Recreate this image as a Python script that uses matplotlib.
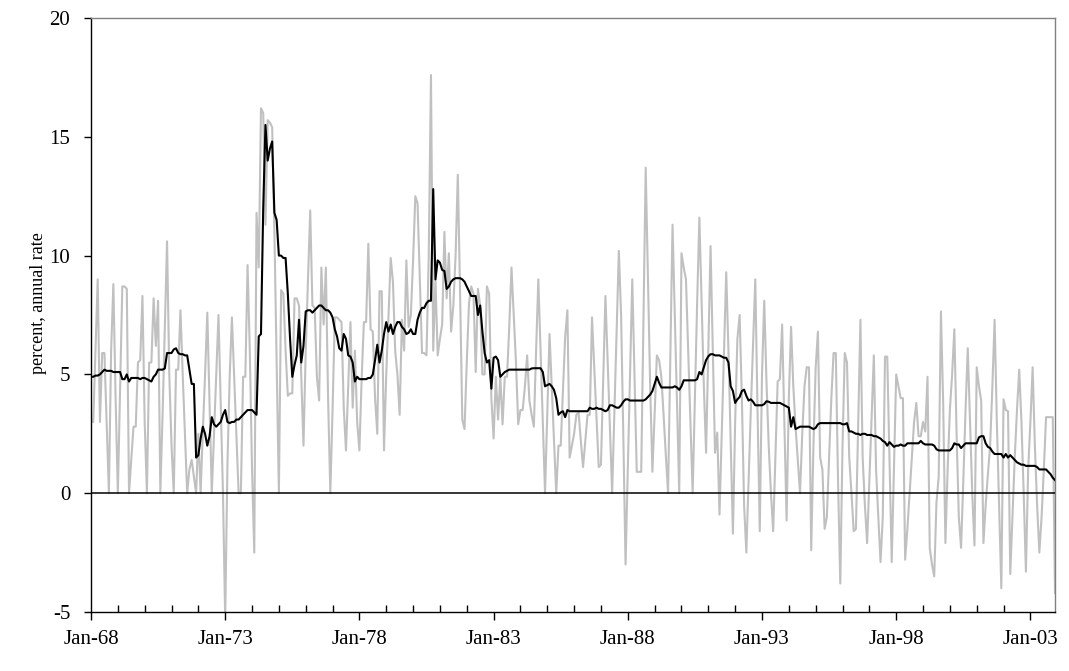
import numpy as np
import pandas as pd
import matplotlib
matplotlib.use("Agg")
import matplotlib.pyplot as plt
from matplotlib.ticker import FixedLocator, FuncFormatter

# ---- data: monthly, Jan-1968 .. Dec-2003 ----
dates = pd.date_range("1968-01-01", periods=432, freq="MS")

monthly_rate = [
    3.0, 3.0, 6.0, 9.0, 3.0, 5.9, 5.9, 3.0, 0.0, 6.0, 8.8, 4.0,          # 1968
    0.0, 4.3, 8.7, 8.7, 8.6, 0.0, 1.4, 2.8, 2.8, 5.5, 5.6, 8.3,          # 1969
    3.0, 0.0, 5.5, 5.5, 8.2, 6.2, 8.1, 0.0, 3.3, 7.0, 10.6, 5.0,         # 1970
    2.0, 0.0, 5.2, 5.2, 7.7, 5.0, 2.5, 0.0, 1.0, 1.4, 0.7, 0.0,          # 1971
    2.5, 0.0, 2.6, 5.0, 7.6, 3.8, 0.0, 2.5, 5.0, 7.5, 3.7, 0.0,          # 1972
    -5.3, 1.2, 4.9, 7.4, 4.9, 2.5, 0.0, 0.0, 4.9, 4.9, 9.6, 6.0,         # 1973
    1.0, -2.5, 11.8, 9.5, 16.2, 16.0, 11.3, 15.7, 15.6, 15.4, 11.0, 5.5, # 1974
    0.0, 8.55, 8.4, 6.0, 4.1, 4.2, 4.2, 8.2, 8.2, 7.9, 5.0, 2.0,         # 1975
    6.0, 9.0, 11.9, 7.9, 7.8, 4.9, 3.9, 9.5, 7.1, 9.5, 4.0, 0.0,         # 1976
    3.5, 7.4, 7.4, 7.3, 7.2, 3.6, 1.8, 4.5, 7.2, 3.6, 6.0, 3.0,          # 1977
    1.8, 4.8, 7.2, 7.2, 10.5, 6.9, 6.8, 4.0, 2.5, 8.5, 8.5, 1.8,         # 1978
    5.0, 7.5, 9.9, 8.9, 6.0, 5.0, 3.3, 7.3, 6.0, 9.8, 7.0, 7.5,          # 1979
    9.8, 12.5, 12.2, 9.0, 5.9, 5.9, 5.8, 10.0, 17.6, 6.0, 9.0, 5.8,      # 1980
    6.5, 7.1, 11.0, 8.2, 10.1, 6.8, 7.9, 10.0, 13.4, 8.5, 3.1, 2.7,      # 1981
    5.5, 8.0, 8.7, 8.4, 5.1, 8.6, 7.9, 5.0, 5.0, 8.7, 8.4, 4.0,          # 1982
    2.3, 4.9, 3.1, 4.9, 2.9, 4.9, 4.9, 7.0, 9.5, 7.5, 5.5, 2.9,          # 1983
    3.5, 3.5, 4.5, 5.8, 3.9, 3.3, 2.8, 6.0, 9.0, 6.0, 3.0, 0.0,          # 1984
    3.3, 6.7, 4.5, 2.2, 0.0, 2.0, 2.0, 4.3, 6.6, 7.7, 1.5, 2.0,          # 1985
    2.5, 3.3, 3.4, 2.2, 1.1, 2.2, 3.3, 3.3, 7.4, 5.3, 3.2, 1.1,          # 1986
    1.2, 4.7, 8.3, 5.5, 2.7, 0.0, 3.4, 6.8, 10.2, 7.5, 2.4, -3.0,        # 1987
    1.0, 5.0, 9.0, 5.0, 0.9, 0.9, 0.9, 7.3, 13.7, 9.0, 4.5, 0.9,         # 1988
    3.3, 5.8, 5.6, 4.9, 3.3, 1.6, 0.0, 5.6, 11.3, 7.5, 3.8, 0.0,         # 1989
    10.1, 9.5, 9.0, 6.0, 3.0, 0.0, 4.0, 8.0, 11.6, 8.0, 4.5, 1.7,        # 1990
    6.0, 10.4, 6.0, 1.7, 2.55, -0.9, 2.5, 5.9, 9.3, 6.0, 2.2, -1.7,      # 1991
    3.0, 6.5, 7.5, 4.0, -0.5, -2.5, 0.5, 3.5, 6.3, 9.0, 3.5, -1.6,       # 1992
    5.0, 8.1, 4.7, 2.0, 0.0, -1.6, 1.5, 4.7, 4.8, 7.1, 3.0, -1.15,       # 1993
    4.0, 7.0, 4.5, 2.8, 1.4, 0.0, 2.5, 4.5, 5.3, 5.3, -2.4, 2.0,         # 1994
    5.3, 6.8, 1.5, 1.0, -1.5, -1.0, 1.5, 4.0, 5.9, 5.9, 0.5, -3.8,       # 1995
    2.0, 5.9, 5.5, 1.5, 0.0, -1.6, -1.5, 3.0, 7.3, 1.5, -0.5, -2.1,      # 1996
    0.5, 3.0, 5.8, 1.0, -1.0, -2.9, -1.0, 5.75, 5.75, 1.5, -2.9, 1.0,    # 1997
    5.0, 4.5, 4.0, 4.0, -2.8, -1.5, 0.0, 1.5, 3.0, 3.8, 2.4, 2.4,        # 1998
    3.0, 2.6, 4.9, -2.3, -3.0, -3.5, -0.4, 0.7, 7.65, 3.8, -2.1, 1.0,    # 1999
    3.5, 5.0, 6.9, 2.5, -1.0, -2.3, 0.5, 3.5, 6.1, 3.0, 0.0, -2.2,       # 2000
    5.3, 4.5, 3.9, -2.1, -0.5, 0.8, 2.0, 4.5, 7.3, 3.0, -0.5, -4.0,      # 2001
    3.95, 3.5, 3.45, -3.4, -1.0, 1.5, 3.5, 5.2, 3.0, 0.0, -3.3, 1.0,     # 2002
    3.0, 5.3, 2.0, -0.5, -2.5, -1.0, 1.0, 3.2, 3.2, 3.2, 3.2, -4.2,      # 2003
]

core_rate = [
    4.9, 4.9, 4.95, 4.95, 5.0, 5.1, 5.2, 5.15, 5.15, 5.15, 5.1, 5.1,           # 1968
    5.1, 5.1, 4.8, 4.8, 5.0, 4.7, 4.85, 4.85, 4.85, 4.85, 4.8, 4.85,           # 1969
    4.85, 4.8, 4.75, 4.7, 4.9, 5.0, 5.2, 5.2, 5.2, 5.25, 5.9, 5.9,             # 1970
    5.9, 6.05, 6.1, 5.9, 5.85, 5.85, 5.8, 5.8, 5.2, 4.6, 4.6, 1.5,             # 1971
    1.6, 2.3, 2.8, 2.5, 2.0, 2.4, 3.2, 2.9, 2.8, 2.9, 3.0, 3.3,                # 1972
    3.5, 3.0, 2.95, 3.0, 3.0, 3.1, 3.1, 3.2, 3.3, 3.4, 3.5, 3.5,               # 1973
    3.5, 3.4, 3.3, 6.6, 6.7, 12.0, 15.5, 14.0, 14.5, 14.8, 11.8, 11.5,         # 1974
    10.0, 10.0, 9.9, 9.9, 8.4, 6.5, 4.9, 5.4, 5.8, 7.3, 5.5, 6.2,              # 1975
    7.65, 7.7, 7.7, 7.6, 7.7, 7.8, 7.9, 7.9, 7.8, 7.7, 7.7, 7.6,               # 1976
    7.4, 6.9, 6.6, 6.1, 6.0, 6.7, 6.5, 5.8, 5.75, 5.5, 4.7, 4.9,               # 1977
    4.8, 4.8, 4.8, 4.8, 4.85, 4.85, 5.0, 5.6, 6.25, 5.5, 6.0, 6.7,             # 1978
    7.2, 6.8, 7.1, 6.7, 7.0, 7.2, 7.2, 7.0, 6.9, 6.7, 6.75, 6.9,               # 1979
    6.7, 6.7, 7.3, 7.6, 7.8, 7.8, 8.0, 8.1, 8.1, 12.8, 9.0, 9.8,               # 1980
    9.7, 9.4, 9.35, 8.6, 8.7, 8.9, 9.0, 9.05, 9.05, 9.05, 9.0, 8.9,            # 1981
    8.7, 8.5, 8.3, 8.3, 8.3, 7.5, 7.9, 6.8, 5.9, 5.5, 5.6, 4.4,                # 1982
    5.7, 5.75, 5.6, 4.9, 5.0, 5.1, 5.15, 5.2, 5.2, 5.2, 5.2, 5.2,              # 1983
    5.2, 5.2, 5.2, 5.2, 5.2, 5.25, 5.26, 5.26, 5.26, 5.26, 5.1, 4.5,           # 1984
    4.55, 4.6, 4.5, 4.35, 4.0, 3.3, 3.4, 3.45, 3.2, 3.5, 3.45, 3.45,           # 1985
    3.45, 3.45, 3.45, 3.45, 3.45, 3.45, 3.45, 3.6, 3.55, 3.55, 3.6, 3.55,      # 1986
    3.55, 3.5, 3.45, 3.5, 3.7, 3.7, 3.65, 3.6, 3.6, 3.7, 3.85, 3.95,           # 1987
    3.95, 3.9, 3.9, 3.9, 3.9, 3.9, 3.9, 3.9, 3.95, 4.05, 4.15, 4.3,            # 1988
    4.6, 4.9, 4.65, 4.45, 4.45, 4.45, 4.45, 4.45, 4.45, 4.5, 4.45, 4.35,       # 1989
    4.5, 4.75, 4.75, 4.75, 4.75, 4.75, 4.75, 4.8, 5.1, 5.0, 5.3, 5.6,          # 1990
    5.76, 5.85, 5.85, 5.8, 5.8, 5.8, 5.75, 5.7, 5.7, 5.5, 4.5, 4.3,            # 1991
    3.8, 3.95, 4.05, 4.3, 4.36, 4.1, 3.9, 3.95, 3.85, 3.7, 3.7, 3.7,           # 1992
    3.7, 3.75, 3.87, 3.85, 3.8, 3.8, 3.8, 3.8, 3.8, 3.75, 3.7, 3.65,           # 1993
    3.6, 2.8, 3.2, 2.7, 2.75, 2.8, 2.8, 2.8, 2.8, 2.8, 2.75, 2.7,              # 1994
    2.75, 2.9, 2.95, 2.95, 2.95, 2.95, 2.95, 2.95, 2.95, 2.95, 2.95, 2.95,     # 1995
    2.9, 2.9, 2.95, 2.6, 2.6, 2.55, 2.5, 2.5, 2.45, 2.5, 2.5, 2.45,            # 1996
    2.45, 2.45, 2.4, 2.4, 2.35, 2.3, 2.2, 2.15, 2.0, 2.15, 2.05, 1.95,         # 1997
    2.0, 2.0, 2.05, 2.0, 2.0, 2.1, 2.1, 2.1, 2.1, 2.1, 2.1, 2.2,               # 1998
    2.1, 2.05, 2.05, 2.05, 2.05, 2.0, 1.85, 1.8, 1.8, 1.8, 1.8, 1.8,           # 1999
    1.8, 1.9, 2.1, 2.05, 2.05, 1.9, 2.0, 2.1, 2.1, 2.1, 2.1, 2.1,              # 2000
    2.1, 2.35, 2.4, 2.4, 2.1, 1.95, 1.9, 1.75, 1.65, 1.65, 1.65, 1.65,         # 2001
    1.5, 1.65, 1.5, 1.6, 1.5, 1.4, 1.3, 1.25, 1.2, 1.2, 1.15, 1.15,            # 2002
    1.15, 1.15, 1.15, 1.1, 1.0, 1.0, 1.0, 1.0, 0.9, 0.8, 0.65, 0.55,           # 2003
]

y_ticks = [-5, 0, 5, 10, 15, 20]
x_tick_labels = ["Jan-68", "Jan-73", "Jan-78", "Jan-83", "Jan-88", "Jan-93", "Jan-98", "Jan-03"]
y_label = "percent, annual rate"

# ---- figure ----
plt.rcParams["font.family"] = ["Liberation Serif", "DejaVu Serif"]
fig = plt.figure(figsize=(10.69, 6.71), dpi=100)
ax = fig.add_axes([91/1069, 1 - 612/671, (1055 - 91)/1069, (612 - 18)/671])

x = np.arange(len(dates))
ax.plot(x, monthly_rate, color="#c0c0c0", lw=1.5, zorder=2)
ax.axhline(0, color="black", lw=1.1, zorder=3)
ax.plot(x, core_rate, color="black", lw=1.5, zorder=4)

ax.set_xlim(0, len(dates) - 1)
ax.set_ylim(-5, 20)

ax.yaxis.set_major_locator(FixedLocator(y_ticks))
ax.yaxis.set_major_formatter(FuncFormatter(lambda v, p: "%d" % v))
ax.tick_params(axis="y", direction="out", length=5, width=1, pad=10, labelsize=15)

major_pos = [i for i in x if dates[i].month == 1 and (dates[i].year - 1968) % 5 == 0]
minor_pos = [i for i in x if dates[i].month == 1 and (dates[i].year - 1968) % 5 != 0]
ax.xaxis.set_major_locator(FixedLocator(major_pos))
ax.set_xticklabels(x_tick_labels)
ax.xaxis.set_minor_locator(FixedLocator(minor_pos))
ax.tick_params(axis="x", which="major", direction="out", length=6, width=1, pad=7, labelsize=15)
ax.tick_params(axis="x", which="minor", direction="in", length=5, width=1)

for side in ["top", "right"]:
    ax.spines[side].set_color("#808080")
    ax.spines[side].set_linewidth(1.0)
for side in ["left", "bottom"]:
    ax.spines[side].set_color("black")
    ax.spines[side].set_linewidth(1.0)

ax.set_ylabel(y_label, fontsize=13)
ax.yaxis.set_label_coords(-0.0456, 0.52)

fig.savefig("out.png", dpi=100)
